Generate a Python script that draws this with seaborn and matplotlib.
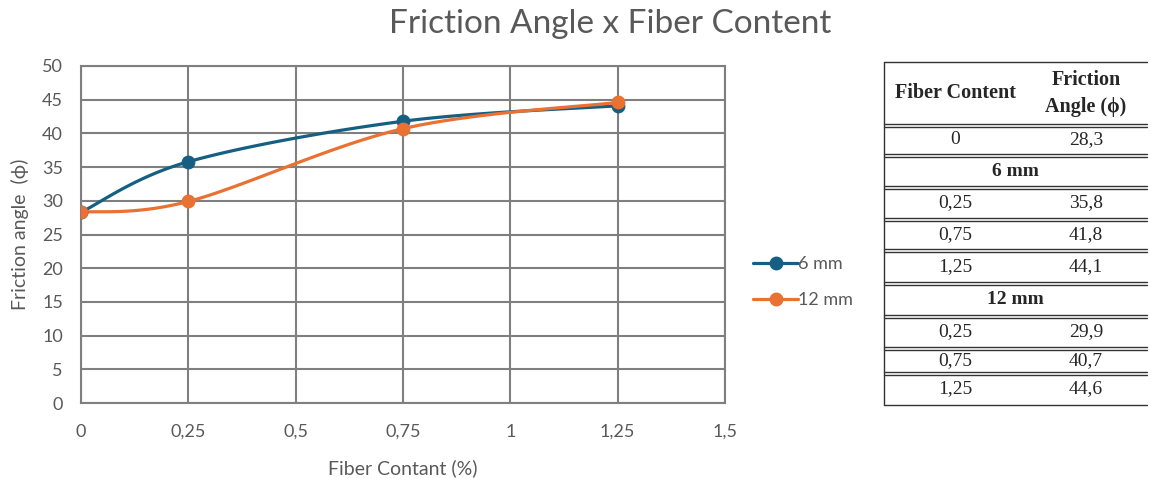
import numpy as np
import pandas as pd
import matplotlib
matplotlib.use("Agg")
import matplotlib.pyplot as plt
import seaborn as sns
from matplotlib.lines import Line2D

fiber = [0, 0.25, 0.75, 1.25]
angle_6mm = [28.3, 35.8, 41.8, 44.1]
angle_12mm = [28.3, 29.9, 40.7, 44.6]
series_names = ["6 mm", "12 mm"]
xticks = [0, 0.25, 0.5, 0.75, 1, 1.25, 1.5]
xtick_labels = ["0", "0,25", "0,5", "0,75", "1", "1,25", "1,5"]
yticks = [0, 5, 10, 15, 20, 25, 30, 35, 40, 45, 50]

table_header = ["Fiber Content", "Friction\nAngle (\u03d5)"]
table_rows = [("0", "28,3"), ("6 mm", None), ("0,25", "35,8"), ("0,75", "41,8"),
              ("1,25", "44,1"), ("12 mm", None), ("0,25", "29,9"), ("0,75", "40,7"),
              ("1,25", "44,6")]

colors = {"6 mm": "#156082", "12 mm": "#E97132"}

sns.set_style("white")
plt.rcParams['font.family'] = ['Lato', 'DejaVu Sans']

df = pd.DataFrame({
    "fiber": fiber * 2,
    "angle": angle_6mm + angle_12mm,
    "series": ["6 mm"] * 4 + ["12 mm"] * 4,
})


def smooth(xs, ys, n=40):
    P = np.column_stack([xs, ys]).astype(float)
    pts = [P[0]] + list(P) + [P[-1]]
    out = []
    for i in range(1, len(pts) - 2):
        p0, p1, p2, p3 = pts[i - 1], pts[i], pts[i + 1], pts[i + 2]
        c1 = p1 + (p2 - p0) / 6
        c2 = p2 - (p3 - p1) / 6
        t = np.linspace(0, 1, n)[:, None]
        seg = ((1 - t) ** 3) * p1 + 3 * ((1 - t) ** 2) * t * c1 + 3 * (1 - t) * t ** 2 * c2 + t ** 3 * p2
        out.append(seg)
    out = np.vstack(out)
    return out[:, 0], out[:, 1]


W, H = 1151, 478
fig = plt.figure(figsize=(W / 100, H / 100), dpi=100)
ax = fig.add_axes([81 / W, 1 - 403 / H, (725 - 81) / W, (403 - 66) / H])

for name in series_names:
    sub = df[df.series == name]
    sx, sy = smooth(sub.fiber.values, sub.angle.values)
    sns.lineplot(x=sx, y=sy, ax=ax, color=colors[name], lw=2.3, sort=False, zorder=3)
    sns.scatterplot(x=sub.fiber, y=sub.angle, ax=ax, color=colors[name], s=85,
                    edgecolor=colors[name], zorder=4)

ax.set_xlim(0, 1.5)
ax.set_ylim(0, 50)
ax.set_xticks(xticks)
ax.set_xticklabels(xtick_labels)
ax.set_yticks(yticks)
ax.grid(True, color="#7f7f7f", lw=1.5)
for s in ax.spines.values():
    s.set_color("#7f7f7f")
    s.set_linewidth(1.5)
ax.tick_params(axis="x", length=0, labelsize=13, colors="#595959", pad=15)
ax.tick_params(axis="y", length=0, labelsize=13, colors="#595959", pad=13)
ax.set_xlabel("Fiber Contant (%)", fontsize=14, color="#595959", labelpad=14)
ax.set_ylabel("Friction angle  (\u03d5)", fontsize=14, color="#595959", labelpad=9)

fig.text(610 / W, 1 - 24 / H, "Friction Angle x Fiber Content", ha="center", va="center",
         fontsize=24, color="#595959")

handles = [Line2D([0], [0], color=colors[n], lw=2.3, marker="o", markersize=9) for n in series_names]
fig.legend(handles, series_names, loc="center left", bbox_to_anchor=(737 / W, 1 - 282 / H),
           frameon=False, fontsize=13, labelcolor="#595959", handlelength=2.5,
           handletextpad=0.0, labelspacing=1.1)

# table
serif = ['Liberation Serif', 'DejaVu Serif']
tl, tr = 884 / W, 1147 / W
tc1, tc2 = 955 / W, 1086 / W
ybounds = [62, 125, 155, 187, 219, 250, 283, 316, 348, 373, 405]
yb = [1 - v / H for v in ybounds]
fig.add_artist(Line2D([tl, tl], [yb[0], yb[-1]], color="#333333", lw=1))
fig.add_artist(Line2D([tl, tr], [yb[0], yb[0]], color="#333333", lw=1))
fig.add_artist(Line2D([tl, tr], [yb[-1], yb[-1]], color="#333333", lw=1))
for v in ybounds[1:-1]:
    for d in (-1.5, 1.5):
        yy = 1 - (v + d) / H
        fig.add_artist(Line2D([tl, tr], [yy, yy], color="#333333", lw=1))
ym = (yb[0] + yb[1]) / 2
fig.text(tc1, ym, table_header[0], ha="center", va="center", fontsize=14.5,
         fontweight="bold", family=serif)
fig.text(tc2, ym, table_header[1], ha="center", va="center", fontsize=14.5,
         fontweight="bold", family=serif, linespacing=1.45)
for i, (a, b) in enumerate(table_rows):
    ym = (yb[i + 1] + yb[i + 2]) / 2
    if b is None:
        fig.text((tl + tr) / 2, ym, a, ha="center", va="center", fontsize=14,
                 fontweight="bold", family=serif)
    else:
        fig.text(tc1, ym, a, ha="center", va="center", fontsize=14, family=serif)
        fig.text(tc2, ym, b, ha="center", va="center", fontsize=14, family=serif)

fig.savefig("out.png", dpi=100)
